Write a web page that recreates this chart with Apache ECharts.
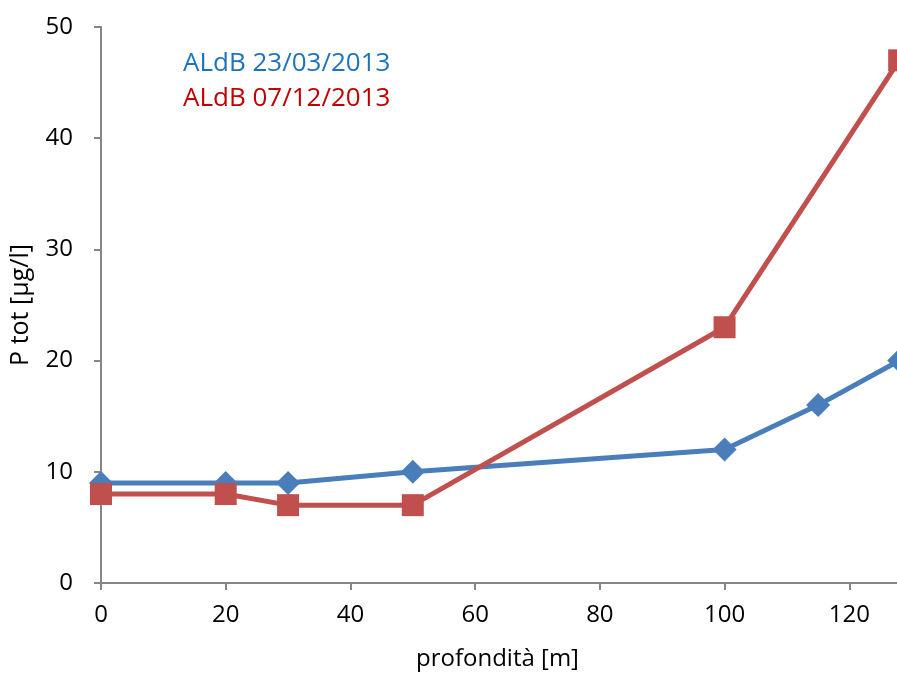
<!DOCTYPE html>
<html><head><meta charset="utf-8">
<script src="https://cdn.jsdelivr.net/npm/echarts@6/dist/echarts.min.js"></script>
<style>html,body{margin:0;padding:0;background:#fff}#c{width:897px;height:675px}</style>
</head><body><div id="c"></div>
<script>
const depthBlue = [0, 20, 30, 50, 100, 115, 128];
const valuesBlue = [9, 9, 9, 10, 12, 16, 20];
const depthRed = [0, 20, 30, 50, 100, 128];
const valuesRed = [8, 8, 7, 7, 23, 47];
const seriesNames = ['ALdB 23/03/2013', 'ALdB 07/12/2013'];
const xTitle = 'profondità [m]';
const yTitle = 'P tot [µg/l]';

const font = '"Open Sans", "Liberation Sans", sans-serif';
const chart = echarts.init(document.getElementById('c'));
chart.setOption({
  animation: false,
  legend: {
    orient: 'vertical', left: 173, top: 46, icon: 'none', itemGap: 9,
    itemWidth: 0,
    data: [
      {name: seriesNames[0], textStyle: {color: '#1F73BE'}},
      {name: seriesNames[1], textStyle: {color: '#C00000'}}
    ],
    textStyle: {fontFamily: font, fontSize: 26}
  },
  grid: {left: 101, top: 27, width: 873, height: 556, containLabel: false, outerBoundsMode: 'none'},
  xAxis: {
    type: 'value', min: 0, max: 140, interval: 20,
    name: xTitle, nameLocation: 'middle', nameGap: 64,
    nameTextStyle: {fontFamily: font, fontSize: 24, color: '#000', padding: [0, 80, 0, 0]},
    axisLine: {lineStyle: {color: '#868686', width: 2}},
    axisTick: {show: true, length: 7, lineStyle: {color: '#868686', width: 2}},
    axisLabel: {fontFamily: font, fontSize: 24, color: '#000', margin: 20},
    splitLine: {show: false}
  },
  yAxis: {
    type: 'value', min: 0, max: 50, interval: 10,
    name: yTitle, nameLocation: 'middle', nameGap: 68,
    nameTextStyle: {fontFamily: font, fontSize: 25, color: '#000'},
    axisLine: {show: true, lineStyle: {color: '#868686', width: 2}},
    axisTick: {show: true, length: 7, lineStyle: {color: '#868686', width: 2}},
    axisLabel: {fontFamily: font, fontSize: 24, color: '#000', margin: 28},
    splitLine: {show: false}
  },
  series: [
    {
      name: seriesNames[0], type: 'line',
      data: depthBlue.map((d, i) => [d, valuesBlue[i]]),
      symbol: 'diamond', symbolSize: 24,
      lineStyle: {color: '#4A7EBB', width: 5},
      itemStyle: {color: '#4A7EBB'}, z: 2
    },
    {
      name: seriesNames[1], type: 'line',
      data: depthRed.map((d, i) => [d, valuesRed[i]]),
      symbol: 'rect', symbolSize: 22,
      lineStyle: {color: '#C0504D', width: 5},
      itemStyle: {color: '#C0504D'}, z: 3
    }
  ]
});
</script></body></html>
